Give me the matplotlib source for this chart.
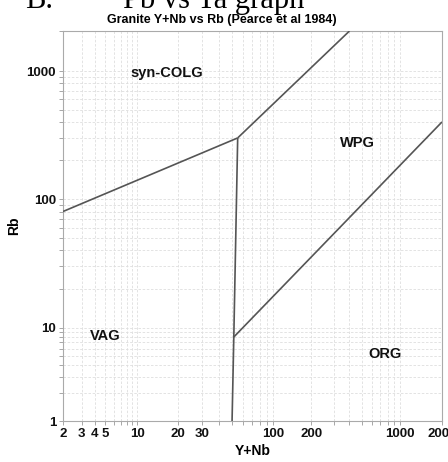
"""Pearce et al. (1984) granite discrimination diagram: Y+Nb vs Rb."""
import numpy as np
import matplotlib
matplotlib.use("Agg")
import matplotlib.pyplot as plt
import matplotlib.ticker as mticker

# ---- field boundaries (Y+Nb, Rb) ----
colg_vag_x = [2, 55]
colg_vag_y = [80, 300]
colg_wpg_x = [55, 400]
colg_wpg_y = [300, 2000]
vag_wpg_x = [55, 51.5, 50]
vag_wpg_y = [300, 8, 1]
wpg_org_x = [51.5, 2000]
wpg_org_y = [8, 400]

fields = ["syn-COLG", "WPG", "VAG", "ORG"]
field_x = [16.5, 460, 5.0, 760]
field_y = [970, 275, 8.2, 5.3]

x_ticks = [2, 3, 4, 5, 10, 20, 30, 100, 200, 1000, 2000]
y_ticks = [1, 10, 100, 1000]

# the original plotting tool squeezes the first decade of each axis;
# calibrate against where its decade ticks sit (px along the axis)
X_CAL = ([2, 10, 100, 1000, 2000], [0, 74, 210, 337, 379])
Y_CAL = ([1, 10, 100, 1000, 2000], [0, 93, 222, 350, 390])


def squeezed_log(vals, px):
    lv = np.log10(vals)
    px = np.asarray(px, float)

    def fwd(v):
        l = np.log10(np.clip(np.asarray(v, float), 1e-12, None))
        out = np.interp(l, lv, px)
        s0 = (px[1] - px[0]) / (lv[1] - lv[0])
        s1 = (px[-1] - px[-2]) / (lv[-1] - lv[-2])
        out = np.where(l < lv[0], px[0] + (l - lv[0]) * s0, out)
        out = np.where(l > lv[-1], px[-1] + (l - lv[-1]) * s1, out)
        return out

    def inv(p):
        p = np.asarray(p, float)
        out = np.interp(p, px, lv)
        s0 = (lv[1] - lv[0]) / (px[1] - px[0])
        s1 = (lv[-1] - lv[-2]) / (px[-1] - px[-2])
        out = np.where(p < px[0], lv[0] + (p - px[0]) * s0, out)
        out = np.where(p > px[-1], lv[-1] + (p - px[-1]) * s1, out)
        return 10 ** out

    return fwd, inv


def minor_grid(lo, hi):
    vals = []
    for dec in [1, 10, 100, 1000]:
        for m in range(1, 10):
            v = m * dec
            if lo <= v <= hi:
                vals.append(v)
    return vals


W, H = 448, 462
fig = plt.figure(figsize=(W / 100, H / 100), dpi=100)
ax = fig.add_axes([63 / W, 41 / H, 379 / W, 390 / H])

ax.set_xscale("function", functions=squeezed_log(*X_CAL))
ax.set_yscale("function", functions=squeezed_log(*Y_CAL))
ax.set_xlim(2, 2000)
ax.set_ylim(1, 2000)

line_kw = dict(color="#555555", lw=1.2, solid_capstyle="butt")
for xs, ys in [(colg_vag_x, colg_vag_y), (colg_wpg_x, colg_wpg_y),
               (vag_wpg_x, vag_wpg_y), (wpg_org_x, wpg_org_y)]:
    ax.plot(xs, ys, **line_kw, zorder=3)

for name, fx, fy in zip(fields, field_x, field_y):
    ax.text(fx, fy, name, ha="center", va="center", fontsize=10.5,
            fontweight="bold", family="Liberation Sans", color="#111111")

ax.xaxis.set_major_locator(mticker.FixedLocator(x_ticks))
ax.xaxis.set_major_formatter(mticker.FixedFormatter([str(v) for v in x_ticks]))
ax.xaxis.set_minor_locator(mticker.FixedLocator(minor_grid(2, 2000)))
ax.xaxis.set_minor_formatter(mticker.NullFormatter())
ax.yaxis.set_major_locator(mticker.FixedLocator(y_ticks))
ax.yaxis.set_major_formatter(mticker.FixedFormatter([str(v) for v in y_ticks]))
ax.yaxis.set_minor_locator(mticker.FixedLocator(minor_grid(1, 2000)))
ax.yaxis.set_minor_formatter(mticker.NullFormatter())

ax.grid(True, which="both", color="#dedede", lw=0.6, ls=(0, (3, 2)))
ax.set_axisbelow(True)
ax.tick_params(which="both", length=3, width=0.6, color="#999999", pad=2,
               labelsize=9.5, labelcolor="#111111")
for lab in ax.get_xticklabels() + ax.get_yticklabels():
    lab.set_fontweight("bold")
    lab.set_family("Liberation Sans")
for sp in ax.spines.values():
    sp.set_color("#aaaaaa")
    sp.set_linewidth(0.8)

ax.set_xlabel("Y+Nb", fontsize=10, fontweight="bold", family="Liberation Sans",
              labelpad=3)
ax.set_ylabel("Rb", fontsize=10, fontweight="bold", family="Liberation Sans",
              labelpad=4)

fig.text(222 / W, 1 - 20 / H, "Granite Y+Nb vs Rb (Pearce et al 1984)",
         ha="center", va="center", fontsize=9, fontweight="bold",
         family="Liberation Sans")
# cropped-off heading from the source document
fig.text(25 / W, 1 - 8 / H, "B.", ha="left", va="baseline", fontsize=22,
         family="Liberation Serif")
fig.text(123 / W, 1 - 8 / H, "Pb vs Ta graph", ha="left", va="baseline",
         fontsize=22, family="Liberation Serif")

fig.savefig("out.png", dpi=100)
